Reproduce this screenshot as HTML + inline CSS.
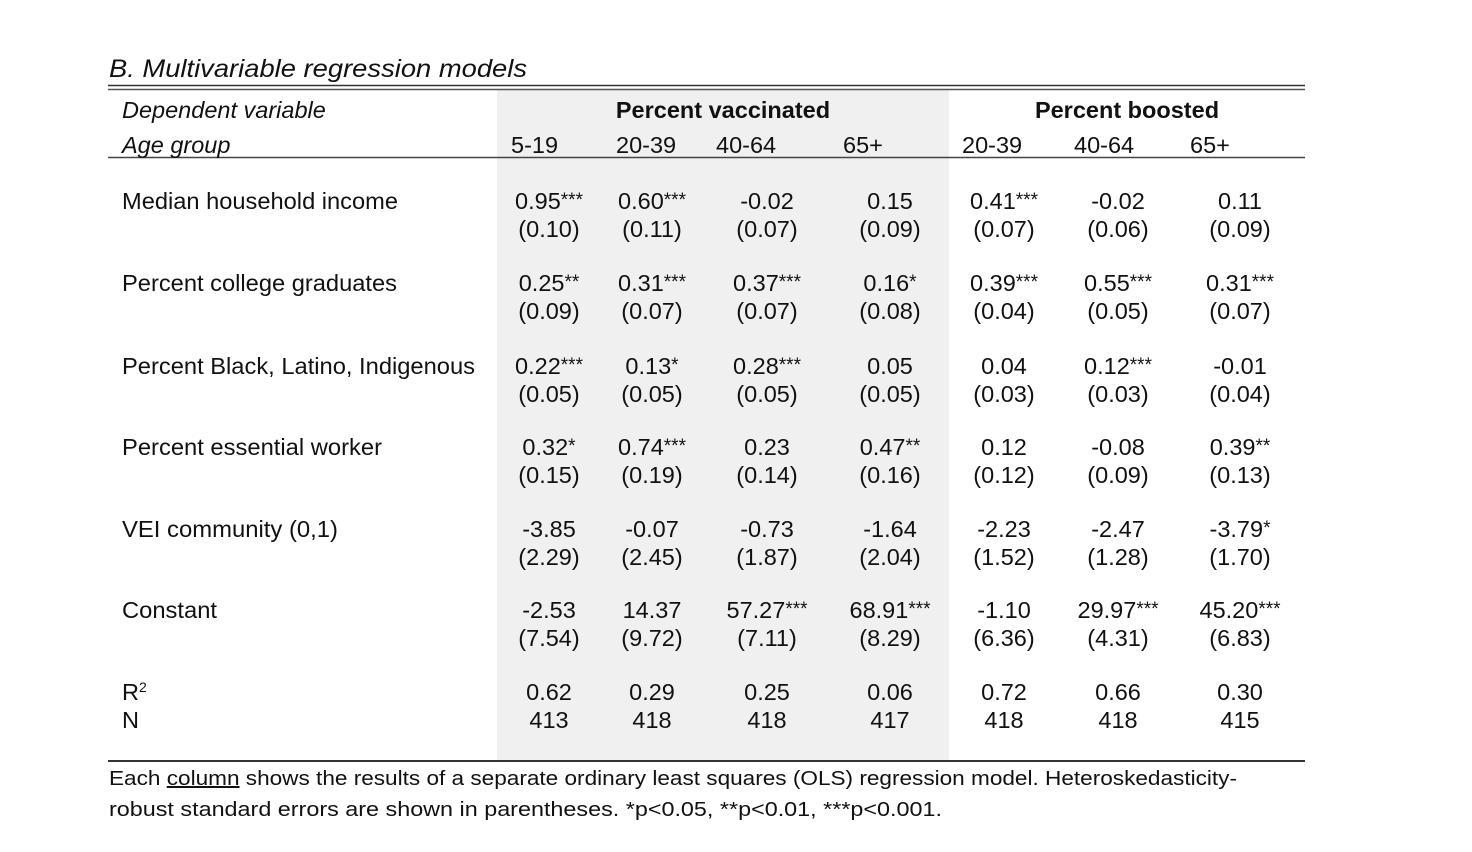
<!DOCTYPE html>
<html><head><meta charset="utf-8"><style>
html,body{margin:0;padding:0;background:#fff;}
svg{display:block;}
text{font-family:"Liberation Sans",Arial,sans-serif;fill:#111;}
.ft{font-family:"Liberation Sans",sans-serif;}
</style></head><body>
<svg id="t" width="1472" height="852" viewBox="0 0 1472 852">
<rect x="497" y="89" width="452" height="671" fill="#f0f0f0"/>
<text x="109" y="77" font-size="25" font-style="italic" textLength="418" lengthAdjust="spacingAndGlyphs">B. Multivariable regression models</text>
<line x1="108" y1="85.5" x2="1305" y2="85.5" stroke="#333" stroke-width="1.5"/>
<line x1="108" y1="89.5" x2="1305" y2="89.5" stroke="#555" stroke-width="1.5"/>
<line x1="108" y1="157.5" x2="1305" y2="157.5" stroke="#444" stroke-width="1.5"/>
<line x1="108" y1="761" x2="1305" y2="761" stroke="#333" stroke-width="2"/>
<text x="122" y="118" font-size="23.5" font-style="italic">Dependent variable</text>
<text x="122" y="153" font-size="23.5" font-style="italic">Age group</text>
<text x="723" y="118" font-size="23.5" font-weight="bold" text-anchor="middle">Percent vaccinated</text>
<text x="1127" y="118" font-size="23.5" font-weight="bold" text-anchor="middle">Percent boosted</text>
<g id="body"></g>
<text class="ft" x="109" y="785" font-size="20" textLength="1128" lengthAdjust="spacingAndGlyphs">Each <tspan text-decoration="underline">column</tspan> shows the results of a separate ordinary least squares (OLS) regression model. Heteroskedasticity-</text>
<text class="ft" x="109" y="816" font-size="20" textLength="833" lengthAdjust="spacingAndGlyphs">robust standard errors are shown in parentheses. *p&lt;0.05, **p&lt;0.01, ***p&lt;0.001.</text>
</svg>
<script>
const ageGroups=["5-19","20-39","40-64","65+","20-39","40-64","65+"];
const rowLabels=["Median household income","Percent college graduates","Percent Black, Latino, Indigenous","Percent essential worker","VEI community (0,1)","Constant"];
const coefs=[
["0.95***","0.60***","-0.02","0.15","0.41***","-0.02","0.11"],
["0.25**","0.31***","0.37***","0.16*","0.39***","0.55***","0.31***"],
["0.22***","0.13*","0.28***","0.05","0.04","0.12***","-0.01"],
["0.32*","0.74***","0.23","0.47**","0.12","-0.08","0.39**"],
["-3.85","-0.07","-0.73","-1.64","-2.23","-2.47","-3.79*"],
["-2.53","14.37","57.27***","68.91***","-1.10","29.97***","45.20***"]];
const ses=[
["0.10","0.11","0.07","0.09","0.07","0.06","0.09"],
["0.09","0.07","0.07","0.08","0.04","0.05","0.07"],
["0.05","0.05","0.05","0.05","0.03","0.03","0.04"],
["0.15","0.19","0.14","0.16","0.12","0.09","0.13"],
["2.29","2.45","1.87","2.04","1.52","1.28","1.70"],
["7.54","9.72","7.11","8.29","6.36","4.31","6.83"]];
const r2=["0.62","0.29","0.25","0.06","0.72","0.66","0.30"];
const nObs=["413","418","418","417","418","418","415"];
const labelWidths=[276,275,353,260,216,95];
const colX=[549,652,767,890,1004,1118,1240];
const headX=[511,616,716,843,962,1074,1190];
const rowY=[209,291,374,455,537,618];
const NS="http://www.w3.org/2000/svg";
const body=document.getElementById('body');
function txt(x,y,s,anchor){const t=document.createElementNS(NS,'text');t.setAttribute('x',x);t.setAttribute('y',y);t.setAttribute('font-size','23.5');if(anchor)t.setAttribute('text-anchor',anchor);
const m=s.match(/^(.*?)(\*+)$/);
if(m){t.appendChild(document.createTextNode(m[1]));const sp=document.createElementNS(NS,'tspan');sp.setAttribute('font-size','19');sp.setAttribute('dy','-3');sp.textContent=m[2];t.appendChild(sp);}
else t.textContent=s;
body.appendChild(t);return t;}
ageGroups.forEach((a,i)=>{const t=txt(headX[i],153,a);

});
rowLabels.forEach((l,r)=>{const t=txt(122,rowY[r],l);t.setAttribute('textLength',labelWidths[r]);t.setAttribute('lengthAdjust','spacingAndGlyphs');


coefs[r].forEach((c,i)=>{const e=txt(colX[i],rowY[r],c,'middle');


const s=txt(colX[i],rowY[r]+28,'('+ses[r][i]+')','middle');

});});
const r2l=txt(122,700,'R');const sup=document.createElementNS(NS,'tspan');sup.setAttribute('font-size','14');sup.setAttribute('dy','-8');sup.textContent='2';r2l.appendChild(sup);


const nl=txt(122,728,'N');


r2.forEach((v,i)=>{const a=txt(colX[i],700,v,'middle');


const b=txt(colX[i],728,nObs[i],'middle');

});
</script>
</body></html>
